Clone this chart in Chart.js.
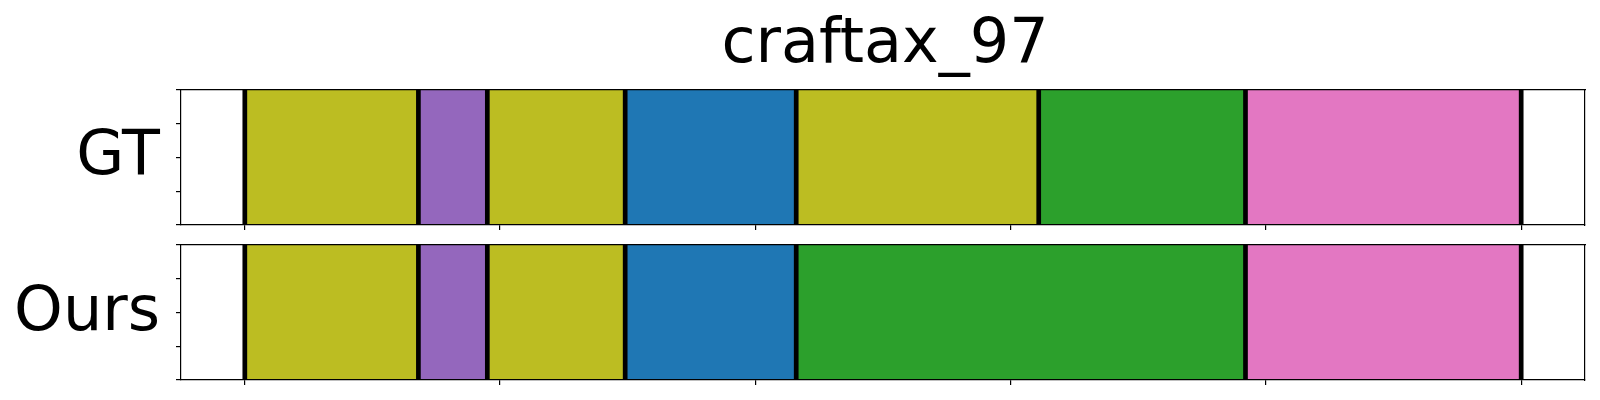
<!DOCTYPE html>
<html>
<head>
<meta charset="utf-8">
<script src="https://cdn.jsdelivr.net/npm/chart.js@4"></script>
<style>
  body { margin: 0; background: #fff; width: 1600px; height: 400px; overflow: hidden; position: relative; font-family: "DejaVu Sans", sans-serif; }
  canvas { position: absolute; left: 0; }
  .lbl { position: absolute; color: #000; white-space: nowrap; }
  #title { left: 685px; width: 400px; text-align: center; top: 10px; font-size: 62px; line-height: 62px; }
  .rowlbl { right: 1440px; font-size: 62px; line-height: 62px; text-align: right; }
</style>
</head>
<body>
<div id="title" class="lbl">craftax_97</div>
<div class="lbl rowlbl" style="top:122px">GT</div>
<div class="lbl rowlbl" style="top:278px">Ours</div>
<canvas id="gtChart" width="1600" height="160" style="top:80px"></canvas>
<canvas id="oursChart" width="1600" height="160" style="top:235px"></canvas>
<script>
// segment boundaries (frame index) and the action of each segment
const gtBounds = [0, 68, 95, 149, 216, 311, 392, 500];
const gtActions = ['olive', 'purple', 'olive', 'blue', 'olive', 'green', 'pink'];
const oursBounds = [0, 68, 95, 149, 216, 392, 500];
const oursActions = ['olive', 'purple', 'olive', 'blue', 'green', 'pink'];
const xTickValues = [0, 100, 200, 300, 400, 500];
const yTickValues = [0, 0.25, 0.5, 0.75, 1];

const palette = {
  olive: '#bcbd22',
  purple: '#9467bd',
  blue: '#1f77b4',
  green: '#2ca02c',
  pink: '#e377c2'
};

// black separators at every segment boundary
const boundaryLines = {
  id: 'boundaryLines',
  afterDatasetsDraw(chart, args, opts) {
    const ctx = chart.ctx;
    const area = chart.chartArea;
    const xs = chart.scales.x;
    ctx.save();
    ctx.strokeStyle = '#000';
    ctx.lineWidth = 4.7;
    opts.values.forEach(v => {
      const px = xs.getPixelForValue(v);
      ctx.beginPath();
      ctx.moveTo(px, area.top);
      ctx.lineTo(px, area.bottom);
      ctx.stroke();
    });
    ctx.restore();
  }
};

// wanted plot box inside each 1600x160 canvas
const target = { left: 181, right: 1585, top: 10, bottom: 145 };

function makeChart(id, bounds, actions) {
  const datasets = actions.map((a, i) => ({
    data: [[bounds[i], bounds[i + 1]]],
    backgroundColor: palette[a],
    borderWidth: 0,
    grouped: false,
    barPercentage: 1,
    categoryPercentage: 1
  }));

  const frame = { display: true, color: '#000', width: 1.2, z: 1 };
  const tickMarks = { display: true, offset: false, drawOnChartArea: false, drawTicks: true, tickLength: 5, color: '#000', lineWidth: 1.2 };

  const chart = new Chart(document.getElementById(id), {
    type: 'bar',
    data: { labels: [''], datasets: datasets },
    options: {
      indexAxis: 'y',
      responsive: false,
      animation: false,
      layout: { padding: { left: 176, right: 15, top: 10, bottom: 10 } },
      plugins: {
        legend: { display: false },
        tooltip: { enabled: false },
        title: { display: false },
        boundaryLines: { values: bounds }
      },
      scales: {
        x: {
          type: 'linear', min: -25, max: 525, z: 1, offset: false,
          afterBuildTicks: s => { s.ticks = xTickValues.map(v => ({ value: v })); },
          ticks: { display: false },
          grid: tickMarks,
          border: frame
        },
        xTop: {
          type: 'linear', position: 'top', min: -25, max: 525, z: 1, offset: false,
          ticks: { display: false },
          grid: { display: false },
          border: frame
        },
        y: { type: 'category', display: false },
        yTicks: {
          type: 'linear', position: 'left', min: 0, max: 1, z: 1, offset: false,
          afterBuildTicks: s => { s.ticks = yTickValues.map(v => ({ value: v })); },
          ticks: { display: false },
          grid: tickMarks,
          border: frame
        },
        yRight: {
          type: 'linear', position: 'right', min: 0, max: 1, z: 1, offset: false,
          ticks: { display: false },
          grid: { display: false },
          border: frame
        }
      }
    },
    plugins: [boundaryLines]
  });

  // nudge the padding so the plot box lands where it should
  const a = chart.chartArea;
  const p = chart.config.options.layout.padding;
  chart.config.options.layout.padding = {
    left: p.left + (target.left - a.left),
    right: p.right + (a.right - target.right),
    top: p.top + (target.top - a.top),
    bottom: p.bottom + (a.bottom - target.bottom)
  };
  chart.update();
  return chart;
}

makeChart('gtChart', gtBounds, gtActions);
makeChart('oursChart', oursBounds, oursActions);
</script>
</body>
</html>
